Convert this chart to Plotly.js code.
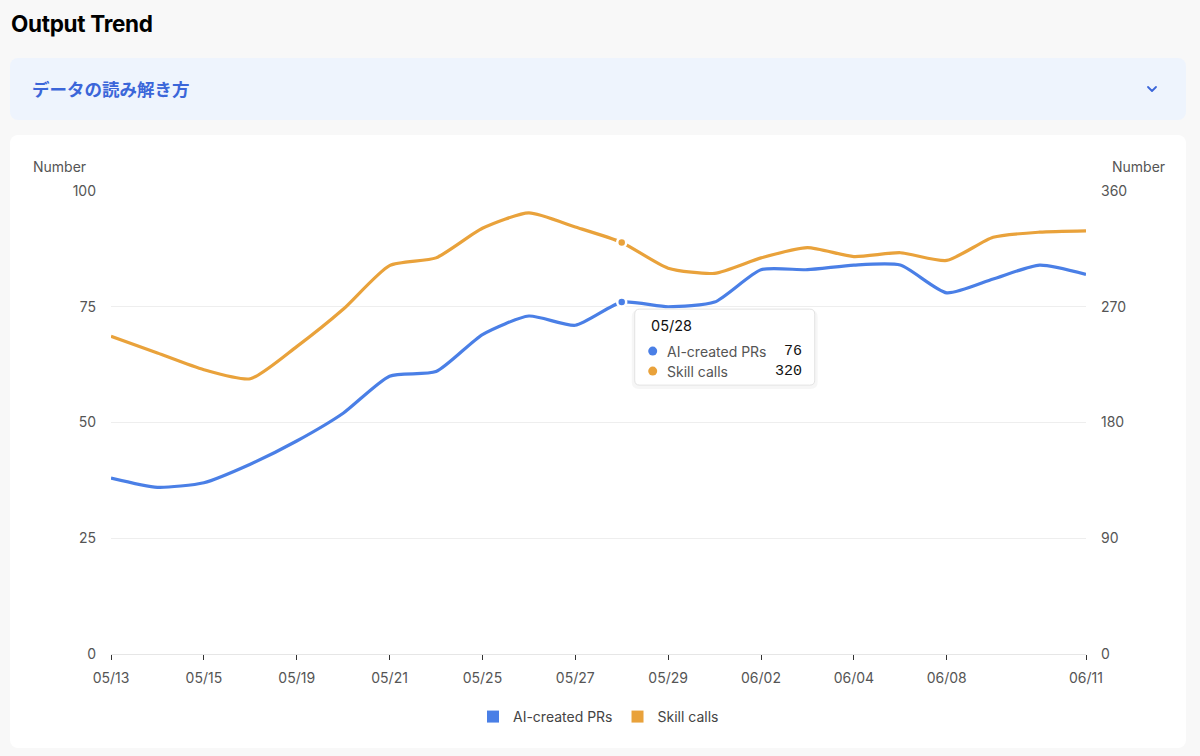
<!DOCTYPE html>
<html><head><meta charset="utf-8">
<script src="https://cdn.plot.ly/plotly-3.0.1.min.js"></script>
<style>
html,body{margin:0;padding:0;background:#f8f8f8;width:1200px;height:756px;overflow:hidden;font-family:Inter,"Noto Sans CJK JP",sans-serif;}
#title{position:absolute;left:11px;top:10px;font-size:22.5px;font-weight:700;color:#000;letter-spacing:-0.3px;}
#guide{position:absolute;left:10px;top:58px;width:1176px;height:62px;background:#eef4fd;border-radius:8px;}
#guide span{position:absolute;left:22px;top:50%;transform:translateY(-52%);font-family:"Noto Sans CJK JP",sans-serif;font-size:17.5px;font-weight:700;color:#3b66d9;}
#guide svg{position:absolute;left:1135px;top:24px;}
#card{position:absolute;left:10px;top:135px;width:1176px;height:613px;background:#fff;border-radius:8px;}
#chart{position:absolute;left:10px;top:135px;width:1176px;height:613px;}
</style></head>
<body>
<div id="title">Output Trend</div>
<div id="guide"><span>データの読み解き方</span>
<svg width="14" height="14" viewBox="0 0 14 14"><path d="M3 5 L7 9 L11 5" fill="none" stroke="#3b66d9" stroke-width="1.8" stroke-linecap="round" stroke-linejoin="round"/></svg></div>
<div id="card"></div>
<div id="chart"></div>
<script>
const dates = ['05/13','05/14','05/15','05/16','05/19','05/20','05/21','05/22','05/25','05/26','05/27','05/28','05/29','05/30','06/02','06/03','06/04','06/05','06/08','06/09','06/10','06/11'];
const tickDates = ['05/13','05/15','05/19','05/21','05/25','05/27','05/29','06/02','06/04','06/08','06/11'];
const aiPRs = [38,36,37,41,46,52,60,61,69,73,71,76,75,76,83,83,84,84,78,81,84,82];
const skillCalls = [247,234,221,214,239,268,302,308,331,343,332,320,300,296,308,316,309,312,306,324,328,329];
const seriesNames = ['AI-created PRs','Skill calls'];
const colors = ['#4a7fe6','#e9a23b'];
const focusDate = '05/28';

const fi = dates.indexOf(focusDate);
const font = 'Inter, "Noto Sans", sans-serif';
const mono = '"Liberation Mono", "DejaVu Sans Mono", monospace';

const traces = [
  {x:dates, y:aiPRs, name:seriesNames[0], legendgroup:'a', showlegend:false, mode:'lines', yaxis:'y',
   line:{color:colors[0], width:3.2, shape:'spline', smoothing:0.6}, hoverinfo:'skip'},
  {x:dates, y:skillCalls, name:seriesNames[1], legendgroup:'b', showlegend:false, mode:'lines', yaxis:'y2',
   line:{color:colors[1], width:3.2, shape:'spline', smoothing:0.6}, hoverinfo:'skip'},
  {x:[dates[fi]], y:[aiPRs[fi]], mode:'markers', showlegend:false, yaxis:'y', hoverinfo:'skip',
   marker:{color:colors[0], size:9, line:{color:'#fff', width:2.5}}},
  {x:[dates[fi]], y:[skillCalls[fi]], mode:'markers', showlegend:false, yaxis:'y2', hoverinfo:'skip',
   marker:{color:colors[1], size:9, line:{color:'#fff', width:2.5}}},
  {x:[null], y:[null], mode:'markers', name:seriesNames[0], legendgroup:'a', showlegend:true,
   marker:{symbol:'square', size:12, color:colors[0]}},
  {x:[null], y:[null], mode:'markers', name:seriesNames[1], legendgroup:'b', showlegend:true,
   marker:{symbol:'square', size:12, color:colors[1]}}
];

function rr(x0, x1, yt, yb, r) {
  return `M${x0+r},${yt} L${x1-r},${yt} Q${x1},${yt} ${x1},${yt-r} L${x1},${yb+r} Q${x1},${yb} ${x1-r},${yb} L${x0+r},${yb} Q${x0},${yb} ${x0},${yb+r} L${x0},${yt-r} Q${x0},${yt} ${x0+r},${yt} Z`;
}
const anchorShape = {xref:'x', yref:'y', xsizemode:'pixel', ysizemode:'pixel', xanchor:dates[fi], yanchor:aiPRs[fi]};
const shapes = [
  Object.assign({type:'path', path:rr(10,196,-8,-87,7), fillcolor:'rgba(0,0,0,0.035)', line:{width:0}, layer:'above'}, anchorShape),
  Object.assign({type:'path', path:rr(13,193,-7,-83,5), fillcolor:'#ffffff', line:{color:'#e3e3e3', width:1}, layer:'above'}, anchorShape),
  Object.assign({type:'circle', x0:26.5, x1:35.5, y0:-44.5, y1:-53.5, fillcolor:colors[0], line:{width:0}, layer:'above'}, anchorShape),
  Object.assign({type:'circle', x0:26.5, x1:35.5, y0:-64.5, y1:-73.5, fillcolor:colors[1], line:{width:0}, layer:'above'}, anchorShape)
];
const ann = (text, xs, ys, xa, f) => ({x:dates[fi], y:aiPRs[fi], xref:'x', yref:'y', text, showarrow:false,
  xshift:xs, yshift:ys, xanchor:xa, yanchor:'middle', font:f});
const annotations = [
  ann(focusDate, 27, -23, 'left', {family:font, size:14.5, color:'#111'}),
  ann(seriesNames[0], 43, -49, 'left', {family:font, size:14, color:'#555'}),
  ann(String(aiPRs[fi]), 182, -49, 'right', {family:mono, size:15, color:'#111'}),
  ann(seriesNames[1], 43, -69, 'left', {family:font, size:14, color:'#555'}),
  ann(String(skillCalls[fi]), 182, -69, 'right', {family:mono, size:15, color:'#111'}),
  {xref:'paper', yref:'paper', x:0, y:1, xshift:-52, yshift:25, xanchor:'center', yanchor:'middle', showarrow:false,
   text:'Number', font:{family:font, size:14, color:'#555'}},
  {xref:'paper', yref:'paper', x:1, y:1, xshift:52, yshift:25, xanchor:'center', yanchor:'middle', showarrow:false,
   text:'Number', font:{family:font, size:14, color:'#555'}}
];

const layout = {
  width:1176, height:613,
  margin:{l:101, r:100, t:56, b:94},
  paper_bgcolor:'rgba(0,0,0,0)', plot_bgcolor:'rgba(0,0,0,0)',
  font:{family:font, size:14, color:'#555'},
  hovermode:false,
  xaxis:{type:'category', range:[0, dates.length-1], tickmode:'array', tickvals:tickDates, ticktext:tickDates,
    ticks:'outside', ticklen:5, tickwidth:1, tickcolor:'#333', showgrid:false, zeroline:false,
    showline:true, linecolor:'#e6e6e6', linewidth:1, ticklabelstandoff:6,
    tickfont:{family:font, size:14, color:'#555'}},
  yaxis:{range:[0,100], tickvals:[0,25,50,75,100], showgrid:true, gridcolor:'#eeeeee', gridwidth:1,
    zeroline:false, showline:false, ticks:'', ticklabelstandoff:14, tickfont:{family:font, size:14, color:'#555'}},
  yaxis2:{range:[0,360], tickvals:[0,90,180,270,360], overlaying:'y', side:'right', showgrid:false,
    zeroline:false, showline:false, ticks:'', ticklabelstandoff:14, tickfont:{family:font, size:14, color:'#555'}},
  legend:{orientation:'h', x:0.5, xanchor:'center', y:-0.136, yanchor:'middle',
    font:{family:font, size:14, color:'#444'}, itemwidth:30, bgcolor:'rgba(0,0,0,0)'},
  shapes, annotations
};
Plotly.newPlot('chart', traces, layout, {displayModeBar:false, responsive:false});
</script>
</body></html>
